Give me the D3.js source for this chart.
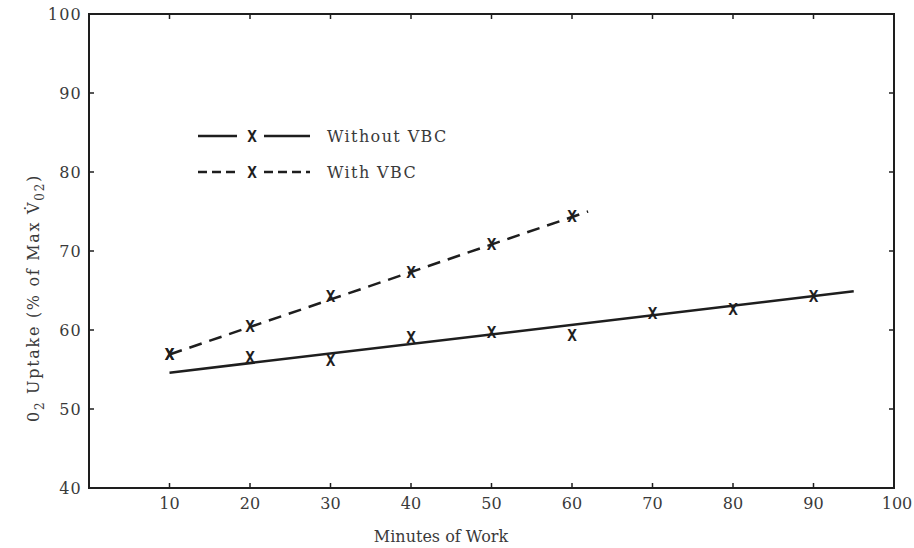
<!DOCTYPE html>
<html>
<head>
<meta charset="utf-8">
<script src="https://cdn.jsdelivr.net/npm/d3@7"></script>
<style>
  body { margin: 0; background: #fff; }
  svg { display: block; }
</style>
</head>
<body>
<div id="chart"></div>
<script>
// O2 uptake vs minutes of work
var minutesWithout = [10, 20, 30, 40, 50, 60, 70, 80, 90];
var uptakeWithout = [57.0, 56.6, 56.2, 59.1, 59.7, 59.4, 62.1, 62.6, 64.3];
var minutesWith = [10, 20, 30, 40, 50, 60];
var uptakeWith = [57.0, 60.5, 64.3, 67.4, 70.9, 74.4];
// fitted lines (endpoints)
var fitWithoutX = [10, 95];
var fitWithoutY = [54.6, 64.9];
var fitWithX = [10, 62];
var fitWithY = [56.9, 75.0];

var xTicks = [10, 20, 30, 40, 50, 60, 70, 80, 90, 100];
var yTicks = [40, 50, 60, 70, 80, 90, 100];

var width = 914, height = 548;
var x = d3.scaleLinear().domain([0, 100]).range([89, 894]);
var y = d3.scaleLinear().domain([40, 100]).range([488, 14]);

var ink = "#1e1e1e";
var txt = "#3a3a3a";
var font = "DejaVu Serif";

var svg = d3.select("#chart").append("svg")
    .attr("width", width)
    .attr("height", height);

// frame
svg.append("rect")
    .attr("x", x(0)).attr("y", y(100))
    .attr("width", x(100) - x(0))
    .attr("height", y(40) - y(100))
    .attr("fill", "none")
    .attr("stroke", ink)
    .attr("stroke-width", 2);

// inward ticks on all four sides
var xIn = xTicks.filter(d => d < 100);
var yIn = yTicks.filter(d => d > 40 && d < 100);
var tk = 5;
svg.selectAll(".tb").data(xIn).enter().append("line")
    .attr("x1", d => x(d)).attr("x2", d => x(d))
    .attr("y1", y(40)).attr("y2", y(40) - tk)
    .attr("stroke", ink).attr("stroke-width", 1.5);
svg.selectAll(".tt").data(xIn).enter().append("line")
    .attr("x1", d => x(d)).attr("x2", d => x(d))
    .attr("y1", y(100)).attr("y2", y(100) + tk)
    .attr("stroke", ink).attr("stroke-width", 1.5);
svg.selectAll(".tl").data(yIn).enter().append("line")
    .attr("x1", x(0)).attr("x2", x(0) + tk)
    .attr("y1", d => y(d)).attr("y2", d => y(d))
    .attr("stroke", ink).attr("stroke-width", 1.5);
svg.selectAll(".tr").data(yIn).enter().append("line")
    .attr("x1", x(100)).attr("x2", x(100) - tk)
    .attr("y1", d => y(d)).attr("y2", d => y(d))
    .attr("stroke", ink).attr("stroke-width", 1.5);

// tick labels
svg.selectAll(".xl").data(xTicks).enter().append("text")
    .attr("x", d => x(d) + (d == 100 ? 3 : 0))
    .attr("y", 509)
    .attr("text-anchor", "middle")
    .attr("font-family", font).attr("font-size", 16)
    .attr("fill", txt)
    .text(d => d);
svg.selectAll(".yl").data(yTicks).enter().append("text")
    .attr("x", 82)
    .attr("y", d => y(d) + 6)
    .attr("text-anchor", "end")
    .attr("font-family", font).attr("font-size", 16)
    .attr("letter-spacing", 1.2)
    .attr("fill", txt)
    .text(d => d);

// axis titles
svg.append("text")
    .attr("x", 441).attr("y", 542)
    .attr("text-anchor", "middle")
    .attr("font-family", font).attr("font-size", 16)
    .attr("fill", txt)
    .text("Minutes of Work");

var yt = svg.append("text")
    .attr("transform", "translate(39,298) rotate(-90)")
    .attr("text-anchor", "middle")
    .attr("font-family", font).attr("font-size", 16)
    .attr("letter-spacing", 1.7)
    .attr("fill", txt);
yt.append("tspan").text("0");
yt.append("tspan").attr("dy", 5).attr("font-size", 12).text("2");
yt.append("tspan").attr("dy", -5).text(" Uptake (% of Max V\u0307");
yt.append("tspan").attr("dy", 5).attr("font-size", 12).text("02");
yt.append("tspan").attr("dy", -5).text(")");

// fitted lines
var line = d3.line().x(d => x(d[0])).y(d => y(d[1]));
svg.append("path")
    .datum(d3.zip(fitWithoutX, fitWithoutY))
    .attr("d", line)
    .attr("fill", "none").attr("stroke", ink).attr("stroke-width", 2.5);
svg.append("path")
    .datum(d3.zip(fitWithX, fitWithY))
    .attr("d", line)
    .attr("fill", "none").attr("stroke", ink).attr("stroke-width", 2.5)
    .attr("stroke-dasharray", "13,8");

// data markers (typed X)
function marks(xs, ys) {
    svg.append("g").selectAll("text").data(d3.zip(xs, ys)).enter().append("text")
        .attr("x", d => x(d[0]))
        .attr("y", d => y(d[1]) + 6)
        .attr("text-anchor", "middle")
        .attr("font-family", "DejaVu Sans Mono").attr("font-size", 16)
        .attr("font-weight", "bold")
        .attr("fill", ink)
        .text("X");
}
marks(minutesWithout, uptakeWithout);
marks(minutesWith, uptakeWith);

// legend
var legend = [
    {label: "Without VBC", dash: null, y: 136},
    {label: "With VBC", dash: "9,5", y: 172}
];
legend.forEach(function (l) {
    [[198, 237], [264, 310]].forEach(function (s) {
        svg.append("line")
            .attr("x1", s[0]).attr("x2", s[1])
            .attr("y1", l.y).attr("y2", l.y)
            .attr("stroke", ink).attr("stroke-width", 2.5)
            .attr("stroke-dasharray", l.dash);
    });
    svg.append("text")
        .attr("x", 252).attr("y", l.y + 6)
        .attr("text-anchor", "middle")
        .attr("font-family", "DejaVu Sans Mono").attr("font-size", 16)
        .attr("font-weight", "bold")
        .attr("fill", ink).text("X");
    svg.append("text")
        .attr("x", 327).attr("y", l.y + 6)
        .attr("font-family", font).attr("font-size", 16)
        .attr("letter-spacing", 1.4)
        .attr("fill", txt).text(l.label);
});
</script>
</body>
</html>
